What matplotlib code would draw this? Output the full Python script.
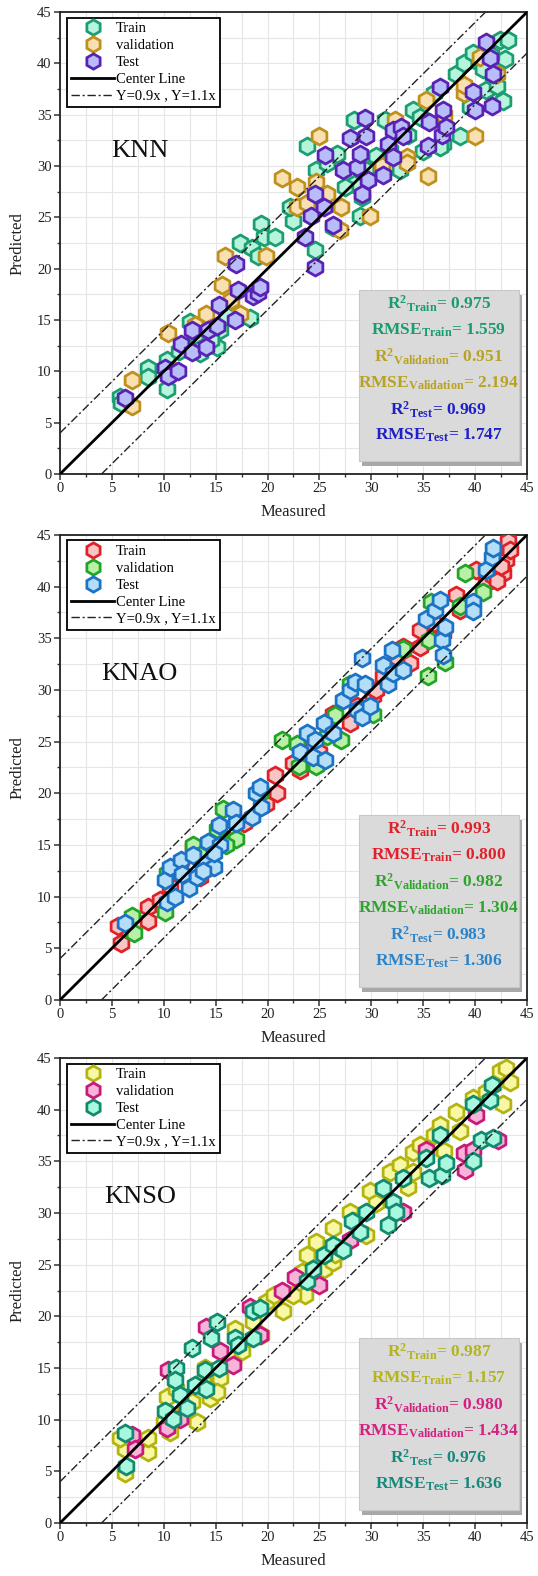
import matplotlib
matplotlib.use("Agg")
import matplotlib.pyplot as plt
from matplotlib.patches import Rectangle
from matplotlib.lines import Line2D
from matplotlib.ticker import MultipleLocator

plt.rcParams['font.family'] = ['Liberation Serif', 'DejaVu Serif']
plt.rcParams['mathtext.fontset'] = 'custom'
plt.rcParams['mathtext.rm'] = 'Liberation Serif'
plt.rcParams['mathtext.bf'] = 'Liberation Serif:bold'
plt.rcParams['mathtext.it'] = 'Liberation Serif:italic'

# ---------------- KNN ----------------
knn_train_meas = [5.8, 5.9, 8.5, 8.5, 10.3, 10.3, 12.5, 13.5, 15.1, 15.4, 18.3, 19.3, 17.3, 18.5, 19.4, 19.7,
                  20.7, 19.1, 22.5, 23.8, 24.6, 24.7, 25.7, 26.3, 26.7, 28.3, 28.3, 28.9, 29.1, 29.5, 31.3, 31.8,
                  32.8, 34.0, 34.7, 36.0, 36.9, 38.5, 38.2, 38.9, 39.8, 40.5, 41.1, 41.7, 42.4, 43.2, 42.9, 42.7,
                  42.1, 39.5, 35.0, 36.6, 22.2, 14.6, 11.5, 13.0, 16.0, 27.5, 30.5, 33.5, 40.8, 41.5]
knn_train_pred = [7.5, 6.9, 10.3, 9.5, 8.3, 11.1, 14.8, 11.8, 12.4, 14.0, 15.2, 18.2, 22.5, 22.0, 24.4, 23.1,
                  23.1, 21.2, 24.7, 32.0, 21.8, 29.6, 30.3, 24.1, 31.2, 34.5, 28.3, 25.1, 27.0, 29.6, 34.5, 31.6,
                  29.6, 35.5, 34.8, 37.1, 32.2, 32.9, 39.0, 40.0, 41.0, 40.0, 37.4, 38.7, 42.3, 42.3, 40.4, 36.3,
                  37.8, 35.8, 31.5, 31.9, 26.0, 13.1, 12.0, 13.5, 15.5, 28.0, 31.0, 33.0, 39.5, 40.8]
knn_val_meas = [6.9, 6.9, 10.4, 10.9, 15.6, 15.9, 19.9, 17.3, 14.1, 21.4, 22.8, 22.8, 23.8, 25.0, 24.7, 25.7,
                27.1, 27.0, 29.9, 32.3, 33.4, 33.4, 35.3, 35.5, 38.9, 38.9, 40.0, 40.5, 42.1, 10.8, 13.0, 16.5,
                31.0, 37.0]
knn_val_pred = [9.2, 6.6, 13.7, 10.1, 18.4, 21.2, 21.2, 15.6, 15.6, 28.8, 28.0, 26.0, 26.4, 32.9, 28.5, 27.3,
                26.0, 23.8, 25.1, 34.5, 30.9, 30.3, 36.4, 29.0, 37.1, 37.9, 32.9, 40.6, 39.0, 9.8, 14.5, 17.0,
                30.0, 35.0]
knn_test_meas = [6.3, 10.1, 10.4, 11.4, 11.7, 12.7, 12.7, 14.1, 14.3, 15.3, 15.1, 16.9, 17.2, 17.0, 18.6, 19.1,
                 19.3, 23.6, 24.2, 24.6, 24.6, 25.4, 25.5, 26.3, 27.3, 27.9, 28.6, 28.9, 29.1, 29.4, 29.5, 29.7,
                 31.1, 31.6, 32.1, 32.1, 32.9, 33.1, 35.5, 35.6, 36.6, 36.8, 36.9, 37.2, 39.8, 40.0, 41.4, 41.1,
                 41.7, 41.6]
knn_test_pred = [7.4, 10.3, 9.6, 10.0, 12.7, 14.0, 11.9, 12.4, 14.0, 16.5, 14.4, 15.0, 17.9, 20.5, 17.3, 17.6,
                 18.2, 23.1, 25.1, 27.3, 20.2, 26.0, 31.1, 24.3, 29.6, 32.7, 29.9, 31.2, 27.3, 34.7, 32.9, 28.6,
                 29.1, 32.2, 33.5, 30.9, 33.8, 32.9, 32.0, 34.3, 37.7, 33.0, 35.5, 33.8, 37.2, 35.5, 40.5, 42.1,
                 39.0, 35.9]
knn_stats = ["0.975", "1.559", "0.951", "2.194", "0.969", "1.747"]

# ---------------- KNAO ----------------
knao_train_meas = [5.9, 5.6, 8.5, 8.5, 10.6, 12.8, 14.5, 16.1, 17.7, 19.9, 20.9, 20.7, 22.5, 23.1, 24.4, 26.3,
                   27.9, 30.2, 31.1, 33.1, 33.7, 34.7, 34.7, 36.9, 38.2, 38.5, 40.1, 41.1, 41.7, 42.7, 43.0, 43.2,
                   43.4, 42.1, 39.5, 32.4, 30.5, 28.6, 19.3, 15.4, 11.6, 13.5, 9.6, 25.0, 29.0, 36.0, 42.5]
knao_train_pred = [5.5, 7.2, 9.0, 7.6, 11.0, 14.8, 12.9, 15.5, 17.1, 19.0, 20.0, 21.8, 22.9, 22.3, 24.5, 27.7,
                   26.8, 29.4, 31.3, 34.2, 32.6, 34.2, 35.8, 35.5, 39.2, 37.7, 41.6, 40.3, 41.0, 41.3, 42.6, 44.4,
                   43.5, 40.5, 38.1, 33.2, 30.0, 28.4, 20.3, 15.8, 13.2, 11.9, 9.7, 24.0, 28.0, 36.5, 42.0]
knao_val_meas = [6.9, 7.1, 10.1, 10.3, 12.8, 15.1, 15.7, 17.0, 19.3, 21.4, 22.8, 23.0, 24.7, 25.7, 26.5, 27.1,
                 27.9, 30.2, 33.1, 35.5, 35.6, 35.8, 37.1, 39.0, 40.8, 38.5, 13.5, 16.0]
knao_val_pred = [8.1, 6.5, 8.5, 12.3, 15.0, 16.5, 18.5, 15.6, 20.0, 25.2, 24.8, 22.6, 22.6, 25.5, 27.6, 25.2,
                 30.6, 27.7, 34.0, 31.3, 34.8, 38.5, 32.7, 41.3, 39.5, 38.1, 14.0, 15.0]
knao_test_meas = [6.3, 10.3, 10.1, 11.1, 10.6, 11.7, 12.4, 12.8, 13.2, 14.1, 14.3, 14.8, 15.3, 15.4, 16.7, 17.0,
                  18.5, 18.9, 19.3, 19.4, 23.1, 23.8, 24.4, 24.6, 25.4, 25.5, 26.3, 27.3, 27.9, 28.4, 28.6, 29.1,
                  29.1, 29.4, 29.9, 31.1, 31.6, 32.0, 32.1, 33.1, 35.3, 36.1, 36.6, 36.8, 37.1, 36.9, 39.8, 39.8,
                  41.1, 41.6, 41.7, 11.8, 13.8, 14.8]
knao_test_pred = [7.4, 9.5, 11.6, 10.0, 12.9, 13.5, 10.8, 14.0, 11.9, 13.2, 15.3, 12.9, 16.9, 15.0, 18.4, 17.1,
                  17.7, 20.0, 20.6, 18.7, 24.0, 25.8, 23.5, 25.2, 26.8, 23.2, 25.8, 29.0, 30.0, 30.8, 28.1, 33.1,
                  27.4, 30.6, 28.4, 32.4, 30.6, 33.9, 31.6, 31.9, 36.9, 37.7, 38.7, 34.8, 36.1, 33.4, 38.5, 37.6,
                  41.6, 42.9, 43.7, 12.2, 12.5, 14.2]
knao_stats = ["0.993", "0.800", "0.982", "1.304", "0.983", "1.306"]

# ---------------- KNSO ----------------
knso_train_meas = [6.3, 6.3, 8.5, 8.5, 5.8, 10.0, 10.3, 10.6, 11.9, 12.7, 13.2, 13.8, 14.5, 15.4, 16.7, 16.9,
                   17.5, 19.4, 19.9, 20.6, 23.3, 23.6, 23.8, 24.7, 25.4, 26.3, 26.3, 27.9, 28.3, 29.5, 29.9, 31.8,
                   32.8, 34.0, 34.7, 36.0, 36.6, 38.2, 38.5, 39.8, 41.1, 41.7, 42.4, 43.0, 43.4, 42.7, 34.0, 22.5,
                   18.6, 15.1, 11.2, 12.0, 14.0, 21.5, 26.5, 30.5, 33.5, 37.0]
knso_train_pred = [4.8, 7.2, 6.9, 8.2, 8.2, 9.8, 12.2, 8.8, 10.5, 11.7, 9.8, 13.7, 12.1, 14.0, 15.9, 18.8,
                   16.6, 18.2, 21.4, 22.1, 24.3, 22.1, 25.9, 27.2, 24.6, 25.3, 28.5, 30.1, 29.2, 27.9, 32.1, 34.0,
                   34.6, 35.9, 36.6, 37.5, 38.5, 39.8, 37.9, 41.1, 41.7, 42.4, 43.7, 44.0, 42.7, 40.5, 34.0, 22.1,
                   19.5, 12.7, 13.0, 11.0, 15.0, 20.5, 26.0, 31.0, 32.5, 36.0]
knso_val_meas = [6.9, 7.2, 10.3, 10.4, 11.6, 14.1, 15.4, 16.7, 18.3, 19.3, 21.4, 22.6, 25.0, 27.9, 33.1, 35.3,
                 38.9, 39.0, 39.8, 40.1, 42.2]
knso_val_pred = [8.5, 7.2, 9.2, 14.8, 10.1, 19.0, 16.6, 15.3, 20.9, 18.2, 22.5, 23.8, 23.0, 27.4, 30.1, 36.1,
                 35.8, 34.2, 36.1, 39.5, 37.1]
knso_test_meas = [6.3, 6.4, 10.1, 10.9, 11.2, 11.1, 11.6, 12.2, 12.7, 13.0, 14.0, 14.1, 14.6, 15.1, 15.3, 16.9,
                  17.2, 18.6, 18.6, 19.3, 23.8, 24.4, 25.4, 26.3, 27.3, 28.1, 28.9, 29.5, 31.1, 31.6, 32.1, 32.4,
                  33.1, 35.3, 35.6, 36.6, 36.8, 37.2, 39.8, 39.8, 40.6, 41.4, 41.6, 41.7]
knso_test_pred = [8.7, 5.5, 10.8, 10.1, 15.0, 13.8, 12.4, 11.1, 16.9, 13.4, 14.8, 13.0, 17.9, 19.5, 15.0, 17.9,
                  17.2, 17.9, 20.5, 20.8, 23.4, 24.6, 25.9, 26.9, 26.4, 29.2, 28.2, 30.1, 32.4, 28.8, 31.1, 30.1,
                  33.4, 35.3, 33.4, 37.5, 33.7, 34.8, 35.0, 40.5, 37.1, 40.9, 42.4, 37.3]
knso_stats = ["0.987", "1.157", "0.980", "1.434", "0.976", "1.636"]

series_labels = ["Train", "validation", "Test"]
axis_ticks = [0, 5, 10, 15, 20, 25, 30, 35, 40, 45]

panels = [
    dict(name="KNN",
         data=[(knn_train_meas, knn_train_pred), (knn_val_meas, knn_val_pred), (knn_test_meas, knn_test_pred)],
         edge=["#1a9e72", "#c0901c", "#5a22b4"],
         face=["#b6f5dc", "#f8e0b0", "#b8bcf8"],
         text=["#1a9c6c", "#b8a224", "#2020c8"],
         stats=knn_stats),
    dict(name="KNAO",
         data=[(knao_train_meas, knao_train_pred), (knao_val_meas, knao_val_pred), (knao_test_meas, knao_test_pred)],
         edge=["#e02228", "#22a428", "#1c72c4"],
         face=["#f8c4c4", "#b8f0a8", "#b4def8"],
         text=["#e0202a", "#2ea42e", "#2a84cc"],
         stats=knao_stats),
    dict(name="KNSO",
         data=[(knso_train_meas, knso_train_pred), (knso_val_meas, knso_val_pred), (knso_test_meas, knso_test_pred)],
         edge=["#b4b410", "#c81a7a", "#128a6e"],
         face=["#f8f8a4", "#f8b4d8", "#a8f8e0"],
         text=["#b4b41c", "#d42080", "#148a7c"],
         stats=knso_stats),
]

fig = plt.figure(figsize=(5.38, 15.76), dpi=100)
ax_bottoms = [0.6992, 0.3655, 0.0336]
ax_heights = [0.2931, 0.2951, 0.2951]

for p, b, h in zip(panels, ax_bottoms, ax_heights):
    ax = fig.add_axes([0.1115, b, 0.868, h])
    ax.set_xlim(0, 45)
    ax.set_ylim(0, 45)
    ax.xaxis.set_minor_locator(MultipleLocator(2.5))
    ax.yaxis.set_minor_locator(MultipleLocator(2.5))
    ax.set_xticks(axis_ticks)
    ax.set_yticks(axis_ticks)
    ax.grid(True, which='both', color='#e6e6e6', lw=0.8, zorder=0)
    ax.set_axisbelow(True)
    ax.tick_params(which='major', direction='out', length=4, width=1.1, labelsize=10.5, pad=2,
                   colors='#333333', labelcolor='#222222')
    ax.tick_params(which='minor', direction='out', length=2.5, width=1.0, colors='#333333')
    for s in ax.spines.values():
        s.set_linewidth(1.3)
        s.set_color('#222222')

    lims = [0, 45]
    ax.plot(lims, lims, color='black', lw=2.0, zorder=5)
    ax.plot([0, 41], [4, 45], color='#222222', lw=1.0, ls=(0, (6, 2, 1.5, 2)), zorder=5)
    ax.plot([4, 45], [0, 41], color='#222222', lw=1.0, ls=(0, (6, 2, 1.5, 2)), zorder=5)

    handles = []
    for (mx, my), ec, fc, lab in zip(p["data"], p["edge"], p["face"], series_labels):
        ax.scatter(mx, my, marker='h', s=150, facecolor=fc, edgecolor=ec, linewidths=2.0, zorder=3)
        handles.append(Line2D([], [], ls='none', marker='h', markersize=11, markerfacecolor=fc,
                              markeredgecolor=ec, markeredgewidth=2.0, label=lab))
    handles.append(Line2D([], [], color='black', lw=2.0, label='Center Line'))
    handles.append(Line2D([], [], color='#222222', lw=1.0, ls=(0, (6, 2, 1.5, 2)), label='Y=0.9x , Y=1.1x'))
    leg = ax.legend(handles=handles, loc='upper left', bbox_to_anchor=(0.015, 0.988), borderaxespad=0,
                    fontsize=10.5, frameon=True, fancybox=False, edgecolor='black', framealpha=1,
                    labelspacing=0.25, handlelength=2.9, handletextpad=0.15, borderpad=0.3)
    leg.get_frame().set_linewidth(1.3)
    leg.set_zorder(10)

    ax.text(0.171, 0.70, p["name"], transform=ax.transAxes, fontsize=19, ha='center', va='center',
            color='#111111', zorder=11)

    # stats box with shadow
    ax.add_patch(Rectangle((0.647, 0.018), 0.343, 0.37, transform=ax.transAxes, facecolor='#a8a8a8',
                           edgecolor='none', zorder=8))
    ax.add_patch(Rectangle((0.640, 0.028), 0.343, 0.37, transform=ax.transAxes, facecolor='#dadada',
                           edgecolor='#c8c8c8', lw=0.8, zorder=9))
    st = p["stats"]
    lines = [
        (r'$\mathbf{R^{2}{}_{Train}}$= ' + st[0], p["text"][0]),
        (r'$\mathbf{RMSE_{Train}}$= ' + st[1], p["text"][0]),
        (r'$\mathbf{R^{2}{}_{Validation}}$= ' + st[2], p["text"][1]),
        (r'$\mathbf{RMSE_{Validation}}$= ' + st[3], p["text"][1]),
        (r'$\mathbf{R^{2}{}_{Test}}$= ' + st[4], p["text"][2]),
        (r'$\mathbf{RMSE_{Test}}$= ' + st[5], p["text"][2]),
    ]
    ys = [0.368, 0.311, 0.254, 0.197, 0.140, 0.083]
    for (txt, c), yy in zip(lines, ys):
        ax.text(0.811, yy, txt, transform=ax.transAxes, fontsize=12.5, fontweight='bold', color=c,
                ha='center', va='center', zorder=12)

    ax.set_xlabel('Measured', fontsize=12, labelpad=6, color='#222222')
    ax.set_ylabel('Predicted', fontsize=12, labelpad=8, color='#222222')

fig.savefig('out.png', dpi=100)
